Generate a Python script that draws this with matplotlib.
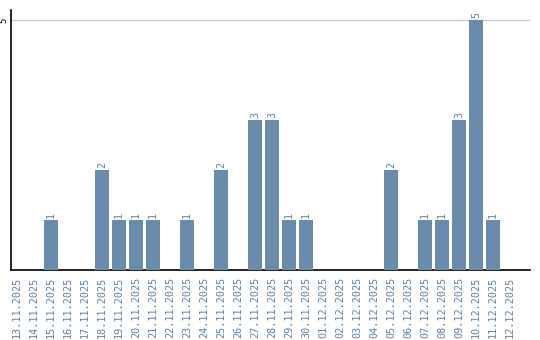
import matplotlib
matplotlib.use("Agg")
import matplotlib.pyplot as plt

dates = ["13.11.2025", "14.11.2025", "15.11.2025", "16.11.2025", "17.11.2025",
         "18.11.2025", "19.11.2025", "20.11.2025", "21.11.2025", "22.11.2025",
         "23.11.2025", "24.11.2025", "25.11.2025", "26.11.2025", "27.11.2025",
         "28.11.2025", "29.11.2025", "30.11.2025", "01.12.2025", "02.12.2025",
         "03.12.2025", "04.12.2025", "05.12.2025", "06.12.2025", "07.12.2025",
         "08.12.2025", "09.12.2025", "10.12.2025", "11.12.2025", "12.12.2025"]
values = [0, 0, 1, 0, 0, 2, 1, 1, 1, 0, 1, 0, 2, 0, 3, 3, 1, 1, 0, 0, 0, 0, 2, 0, 1, 1, 3, 5, 1, 0]
yticks = [5]

bar_color = "#6a8bab"
label_color = "#5b80a8"
mono = "DejaVu Sans Mono"

fig = plt.figure(figsize=(5.4, 3.4), dpi=100)
ax = fig.add_axes([11/540, 1 - 270/340, (530 - 11)/540, 260/340])
x = list(range(len(dates)))
ax.bar(x, values, width=14/17, color=bar_color, zorder=3)
for xi, v in zip(x, values):
    if v > 0:
        ax.text(xi, v + 0.05, str(v), rotation=90, ha="center", va="bottom",
                fontsize=7.2, color=label_color, family=mono)
ax.set_xlim(-0.35, 30.18)
ax.set_ylim(0, 5.2)
ax.set_yticks(yticks)
ax.set_yticklabels([str(t) for t in yticks], rotation=90, fontsize=6.5, va="center", family=mono)
ax.yaxis.grid(True, color="#cccccc", linewidth=1, zorder=0)
ax.tick_params(axis="y", length=0, pad=2)
ax.set_xticks(x)
ax.set_xticklabels(dates, rotation=90, fontsize=7.3, color=label_color, family=mono)
ax.tick_params(axis="x", length=0, pad=5)
for s in ["top", "right"]:
    ax.spines[s].set_visible(False)
ax.spines["left"].set_color("black")
ax.spines["bottom"].set_color("black")
ax.spines["left"].set_linewidth(1.2)
ax.spines["bottom"].set_linewidth(1.2)
fig.savefig("out.png", dpi=100)
